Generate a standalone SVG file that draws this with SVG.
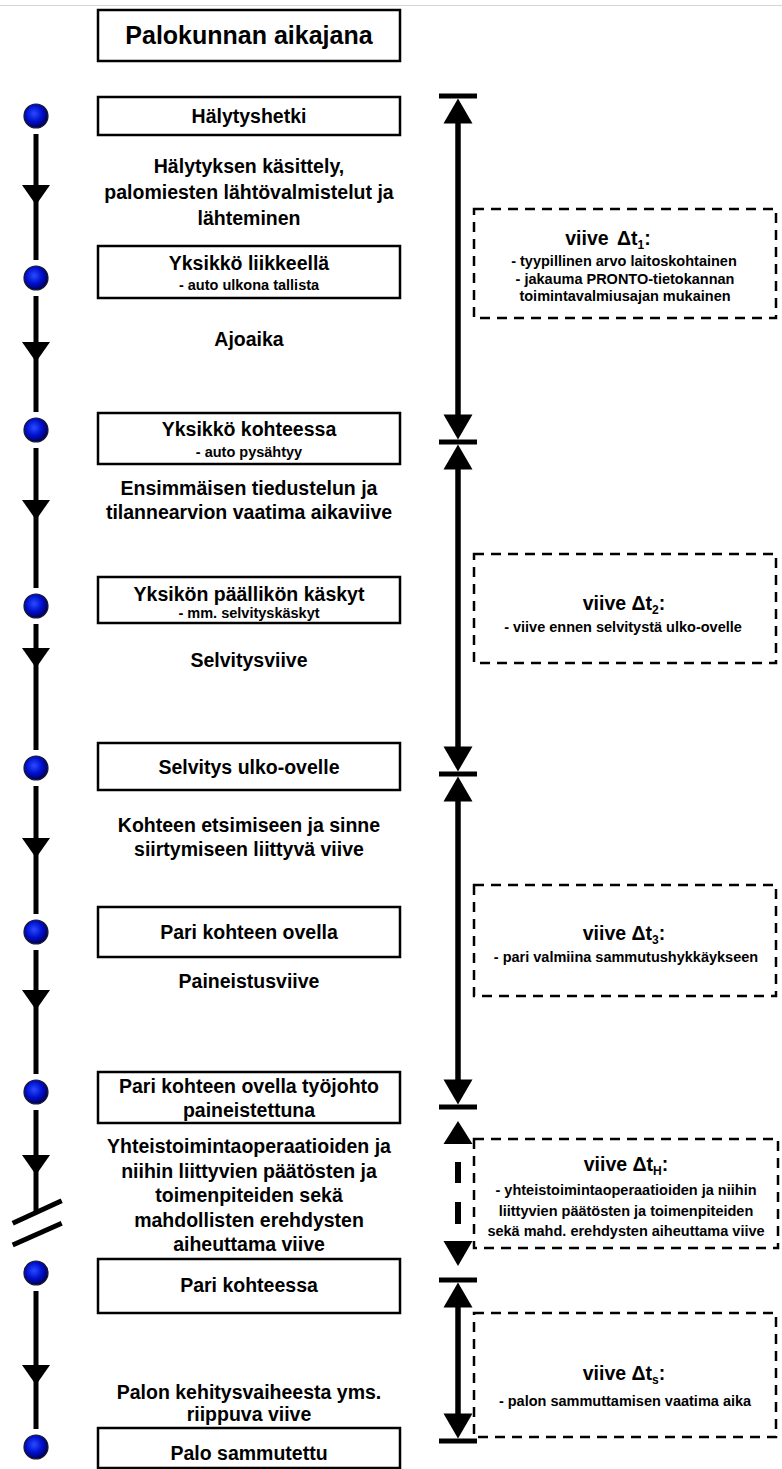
<svg xmlns="http://www.w3.org/2000/svg" width="782" height="1469" viewBox="0 0 782 1469">
<defs>
<radialGradient id="ballGrad" cx="0.42" cy="0.4" r="0.6">
<stop offset="0" stop-color="#2a4bff"/>
<stop offset="0.55" stop-color="#0010d0"/>
<stop offset="1" stop-color="#00005a"/>
</radialGradient>
<style>
.box{fill:#fff;stroke:#000;stroke-width:2.5}
.dbox{fill:none;stroke:#000;stroke-width:2.5;stroke-dasharray:10 7}
.t{font-family:"Liberation Sans",Arial,sans-serif;font-weight:bold;text-anchor:middle;fill:#000}
.ttl{font-size:25px}
.h{font-size:19.5px}
.s{font-size:14.5px}
.sub{font-size:14.5px}
.sb{font-size:12px}
.ln{stroke:#000;stroke-width:5;fill:none}
.rl{stroke:#000;stroke-width:5.5;fill:none}
.ball{fill:url(#ballGrad);stroke:#1a1a2a;stroke-width:1.2}
.ah{fill:#000}
</style>
</defs>
<rect width="782" height="1469" fill="#fff"/>
<line x1="0" y1="5.5" x2="782" y2="5.5" stroke="#d4d4d4" stroke-width="1"/>

<g id="title">
<rect class="box" x="98" y="10" width="302" height="51"/>
<text class="t ttl" x="249" y="44">Palokunnan aikajana</text>
</g>

<g id="connectors">
<line class="ln" x1="36" y1="134" x2="36" y2="260"/>
<line class="ln" x1="36" y1="296" x2="36" y2="412"/>
<line class="ln" x1="36" y1="448" x2="36" y2="588"/>
<line class="ln" x1="36" y1="624" x2="36" y2="750"/>
<line class="ln" x1="36" y1="786" x2="36" y2="914"/>
<line class="ln" x1="36" y1="950" x2="36" y2="1074"/>
<line class="ln" x1="36" y1="1110" x2="36" y2="1213"/>
<line class="ln" x1="12.7" y1="1223.3" x2="61.7" y2="1200.7"/>
<line class="ln" x1="12.7" y1="1245" x2="61.7" y2="1223.3"/>
<line class="ln" x1="36" y1="1291" x2="36" y2="1429"/>
<polygon class="ah" points="22,185 50,185 36,205"/>
<polygon class="ah" points="22,342 50,342 36,362"/>
<polygon class="ah" points="22,500 50,500 36,520"/>
<polygon class="ah" points="22,648 50,648 36,668"/>
<polygon class="ah" points="22,838 50,838 36,858"/>
<polygon class="ah" points="22,990 50,990 36,1010"/>
<polygon class="ah" points="22,1155 50,1155 36,1175"/>
<polygon class="ah" points="22,1365 50,1365 36,1385"/>
<rect class="ah" x="439" y="93.5" width="38" height="5"/>
<rect class="ah" x="439" y="439.5" width="38" height="5"/>
<rect class="ah" x="439" y="771.5" width="38" height="5"/>
<rect class="ah" x="439" y="1104.5" width="38" height="5"/>
<rect class="ah" x="439" y="1277.5" width="38" height="5"/>
<rect class="ah" x="439" y="1438.5" width="38" height="5"/>
<line class="rl" x1="458" y1="120" x2="458" y2="417"/>
<polygon class="ah" points="458,98.5 443.5,123.5 472.5,123.5"/>
<polygon class="ah" points="443.5,414.5 472.5,414.5 458,439.5"/>
<line class="rl" x1="458" y1="466" x2="458" y2="750"/>
<polygon class="ah" points="458,444.5 443.5,469.5 472.5,469.5"/>
<polygon class="ah" points="443.5,746.5 472.5,746.5 458,771.5"/>
<line class="rl" x1="458" y1="798" x2="458" y2="1083"/>
<polygon class="ah" points="458,776.5 443.5,801.5 472.5,801.5"/>
<polygon class="ah" points="443.5,1079.5 472.5,1079.5 458,1104.5"/>
<polygon class="ah" points="458,1121 443.5,1144 472.5,1144"/>
<rect class="ah" x="455" y="1162" width="6" height="21"/>
<rect class="ah" x="455" y="1202" width="6" height="22"/>
<polygon class="ah" points="443.5,1241 472.5,1241 458,1266"/>
<line class="rl" x1="458" y1="1304" x2="458" y2="1416"/>
<polygon class="ah" points="458,1282.5 443.5,1307.5 472.5,1307.5"/>
<polygon class="ah" points="443.5,1413.5 472.5,1413.5 458,1438.5"/>
</g>

<g id="n1">
<circle class="ball" cx="36" cy="116" r="12"/>
<rect class="box" x="98" y="97" width="302" height="38"/>
<text class="t h" x="249" y="123">Hälytyshetki</text>
</g>
<g id="d1">
<text class="t h" x="249" y="173">Hälytyksen käsittely,</text>
<text class="t h" x="249" y="199">palomiesten lähtövalmistelut ja</text>
<text class="t h" x="249" y="225">lähteminen</text>
</g>
<g id="n2">
<circle class="ball" cx="36" cy="278" r="12"/>
<rect class="box" x="98" y="246" width="302" height="52"/>
<text class="t h" x="249" y="270">Yksikkö liikkeellä</text>
<text class="t sub" x="249" y="290">- auto ulkona tallista</text>
</g>
<g id="d2">
<text class="t h" x="249" y="346">Ajoaika</text>
</g>
<g id="n3">
<circle class="ball" cx="36" cy="430" r="12"/>
<rect class="box" x="98" y="413" width="302" height="51"/>
<text class="t h" x="249" y="436">Yksikkö kohteessa</text>
<text class="t sub" x="249" y="457">- auto pysähtyy</text>
</g>
<g id="d3">
<text class="t h" x="249" y="495">Ensimmäisen tiedustelun ja</text>
<text class="t h" x="249" y="519">tilannearvion vaatima aikaviive</text>
</g>
<g id="n4">
<circle class="ball" cx="36" cy="606" r="12"/>
<rect class="box" x="98" y="577" width="302" height="46"/>
<text class="t h" x="249" y="601">Yksikön päällikön käskyt</text>
<text class="t sub" x="249" y="618">- mm. selvityskäskyt</text>
</g>
<g id="d4">
<text class="t h" x="249" y="667">Selvitysviive</text>
</g>
<g id="n5">
<circle class="ball" cx="36" cy="768" r="12"/>
<rect class="box" x="98" y="743" width="302" height="47"/>
<text class="t h" x="249" y="774">Selvitys ulko-ovelle</text>
</g>
<g id="d5">
<text class="t h" x="249" y="832">Kohteen etsimiseen ja sinne</text>
<text class="t h" x="249" y="856">siirtymiseen liittyvä viive</text>
</g>
<g id="n6">
<circle class="ball" cx="36" cy="932" r="12"/>
<rect class="box" x="98" y="907" width="302" height="50"/>
<text class="t h" x="249" y="939">Pari kohteen ovella</text>
</g>
<g id="d6">
<text class="t h" x="249" y="988">Paineistusviive</text>
</g>
<g id="n7">
<circle class="ball" cx="36" cy="1092" r="12"/>
<rect class="box" x="98" y="1072" width="302" height="51"/>
<text class="t h" x="249" y="1093">Pari kohteen ovella työjohto</text>
<text class="t h" x="249" y="1117">paineistettuna</text>
</g>
<g id="d7">
<text class="t h" x="249" y="1153">Yhteistoimintaoperaatioiden ja</text>
<text class="t h" x="249" y="1177.5">niihin liittyvien päätösten ja</text>
<text class="t h" x="249" y="1202">toimenpiteiden sekä</text>
<text class="t h" x="249" y="1226.5">mahdollisten erehdysten</text>
<text class="t h" x="249" y="1251">aiheuttama viive</text>
</g>
<g id="n8">
<circle class="ball" cx="36" cy="1273" r="12"/>
<rect class="box" x="98" y="1259" width="302" height="54"/>
<text class="t h" x="249" y="1292">Pari kohteessa</text>
</g>
<g id="d8">
<text class="t h" x="249" y="1399">Palon kehitysvaiheesta yms.</text>
<text class="t h" x="249" y="1421">riippuva viive</text>
</g>
<g id="n9">
<circle class="ball" cx="36" cy="1447" r="12"/>
<rect class="box" x="98" y="1428" width="302" height="40"/>
<text class="t h" x="249" y="1460">Palo sammutettu</text>
</g>

<g id="delay1">
<rect class="dbox" x="474" y="209" width="302" height="109"/>
<text class="t h" x="608" y="245">viive <tspan dx="3">Δt</tspan><tspan class="sb" dy="4">1</tspan><tspan dy="-4">:</tspan></text>
<text class="t s" x="624" y="266">- tyypillinen arvo laitoskohtainen</text>
<text class="t s" x="625" y="284">- jakauma PRONTO-tietokannan</text>
<text class="t s" x="625" y="301">toimintavalmiusajan  mukainen</text>
</g>
<g id="delay2">
<rect class="dbox" x="474" y="554" width="302" height="109"/>
<text class="t h" x="624" y="610">viive Δt<tspan class="sb" dy="4">2</tspan><tspan dy="-4">:</tspan></text>
<text class="t s" x="623" y="632">- viive ennen selvitystä ulko-ovelle</text>
</g>
<g id="delay3">
<rect class="dbox" x="474" y="885" width="302" height="111"/>
<text class="t h" x="624" y="940">viive Δt<tspan class="sb" dy="4">3</tspan><tspan dy="-4">:</tspan></text>
<text class="t s" x="626" y="962">- pari valmiina sammutushykkäykseen</text>
</g>
<g id="delayH">
<rect class="dbox" x="474" y="1139" width="304" height="109"/>
<text class="t h" x="626" y="1171">viive Δt<tspan class="sb" dy="4">H</tspan><tspan dy="-4">:</tspan></text>
<text class="t s" x="626" y="1195">- yhteistoimintaoperaatioiden ja niihin</text>
<text class="t s" x="626" y="1215.5">liittyvien päätösten ja toimenpiteiden</text>
<text class="t s" x="626" y="1236">sekä mahd. erehdysten aiheuttama viive</text>
</g>
<g id="delayS">
<rect class="dbox" x="474" y="1313" width="302" height="124"/>
<text class="t h" x="624" y="1380">viive Δt<tspan class="sb" dy="4">s</tspan><tspan dy="-4">:</tspan></text>
<text class="t s" x="625" y="1406">- palon sammuttamisen vaatima aika</text>
</g>
</svg>
